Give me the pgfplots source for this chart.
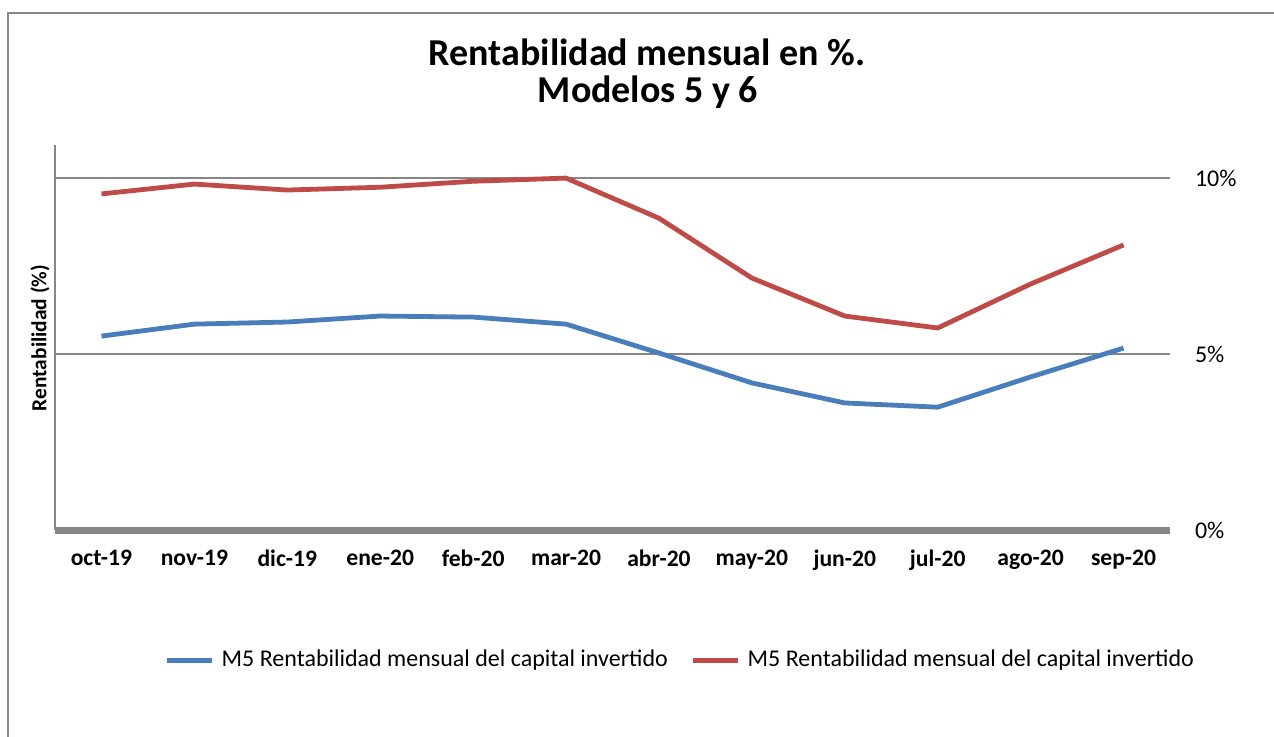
\documentclass[border=0pt]{standalone}
\usepackage{pgfplots}
\pgfplotsset{compat=1.18}
\usepackage{fontspec}
\setmainfont{Carlito}
\definecolor{bl}{HTML}{4A7EBB}
\definecolor{rd}{HTML}{BE4B48}
\definecolor{gr}{HTML}{868686}
\pgfplotstableread{
x m5 m6
0 5.51 9.55
1 5.85 9.83
2 5.91 9.66
3 6.08 9.74
4 6.05 9.91
5 5.85 10.00
6 5.03 8.86
7 4.18 7.16
8 3.61 6.08
9 3.49 5.74
10 4.35 6.99
11 5.17 8.10
}\datatable
\begin{document}
\begin{tikzpicture}[x=0.5pt,y=0.5pt]
\useasboundingbox (0,0) rectangle (1274,736);
\draw[gr, line width=1pt] (8,-20) -- (8,723) -- (1300,723);
\node[font=\bfseries\fontsize{19}{22}\selectfont] at (647,684) {Rentabilidad mensual en \%.};
\node[font=\bfseries\fontsize{19}{22}\selectfont] at (648,644) {Modelos 5 y 6};
\node[font=\bfseries\fontsize{10.7}{12}\selectfont, rotate=90] at (40,398) {Rentabilidad (\%)};
\begin{axis}[
  at={(27.5pt,103pt)}, anchor=south west,
  scale only axis, width=557.5pt, height=192.5pt,
  xmin=-0.5, xmax=11.5, ymin=0, ymax=10.94,
  axis line style={draw=none},
  xtick={0,...,11},
  xticklabels={oct-19,nov-19,dic-19,ene-20,feb-20,mar-20,abr-20,may-20,jun-20,jul-20,ago-20,sep-20},
  xticklabel style={font=\bfseries\fontsize{11.8}{13}\selectfont, yshift=-6.5pt},
  ytick={0,5,10},
  yticklabels={0\%,5\%,10\%},
  ytick pos=right,
  yticklabel style={font=\fontsize{12}{13}\selectfont, anchor=west, xshift=9pt},
  major tick length=0pt,
  ymajorgrids, grid style={gr, line width=1pt},
  legend style={at={(0.56,-0.338)}, anchor=center, draw=none, legend columns=2,
    font=\fontsize{12}{13}\selectfont, inner sep=0pt, nodes={inner sep=0pt},
    /tikz/every odd column/.append style={column sep=3.5pt},
    /tikz/every even column/.append style={column sep=11.5pt}},
  legend image code/.code={\draw[#1] (0pt,0pt) -- (22.5pt,0pt);},
  clip=false,
]
\draw[gr, line width=1pt] (rel axis cs:0,0) -- (rel axis cs:0,1);
\draw[gr, line width=3.5pt] (rel axis cs:0,0) -- (rel axis cs:1,0);
\addplot[bl, line width=2.4pt, line join=round] table[x=x, y=m5] {\datatable};
\addlegendentry{M5 Rentabilidad mensual del capital invertido}
\addplot[rd, line width=2.4pt, line join=round] table[x=x, y=m6] {\datatable};
\addlegendentry{M5 Rentabilidad mensual del capital invertido}
\end{axis}
\end{tikzpicture}
\end{document}
